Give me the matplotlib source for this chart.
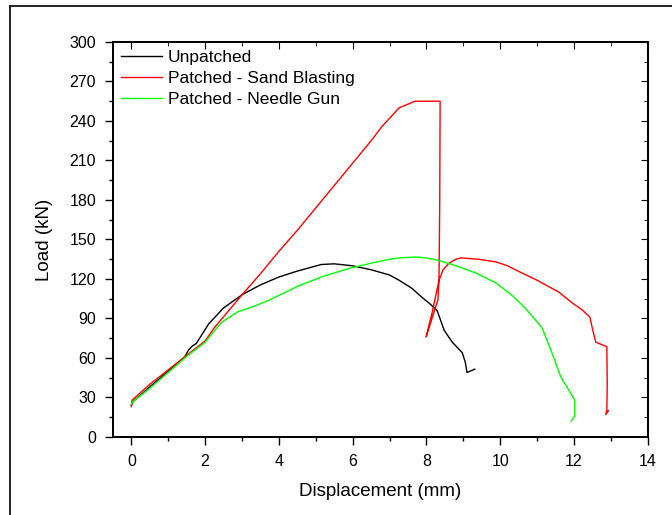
import matplotlib.pyplot as plt
from matplotlib.lines import Line2D

plt.rcParams['font.family'] = ['Liberation Sans', 'DejaVu Sans']

# Unpatched
x_un = [0.0, 0.05, 0.5, 1.0, 1.45, 1.55, 1.65, 1.76, 2.1, 2.5, 3.0, 3.5, 4.0, 4.5,
        5.15, 5.5, 6.0, 6.5, 7.0, 7.26, 7.6, 7.88, 8.1, 8.29, 8.48, 8.7, 8.97, 9.05, 9.1, 9.31]
y_un = [24, 27, 38, 50, 61, 66, 69, 71, 86, 98, 108, 115.5, 121.5, 126,
        131, 131.5, 130, 127, 123, 119, 113, 106, 101, 96, 81, 72, 64, 57, 49, 51.5]

# Patched - Sand Blasting
x_sb = [0.0, 0.02, 0.1, 0.5, 1.0, 1.5, 2.0, 2.25, 3.0, 3.5, 4.0, 4.5, 5.0, 5.5, 6.0,
        6.5, 6.8, 7.26, 7.69, 8.37, 8.36, 8.34, 8.31, 8.15, 7.99, 8.15, 8.34, 8.45,
        8.61, 8.8, 8.93, 9.4, 9.88, 10.2, 10.51, 11.0, 11.59, 11.94, 12.2, 12.43,
        12.5, 12.59, 12.89, 12.9, 12.89, 12.86, 12.93]
y_sb = [23, 28, 30, 40, 51, 62, 73, 83, 108, 124, 141, 157, 174, 191, 208,
        225, 236, 250, 255, 255, 180, 119, 104, 90, 76, 94, 119, 127,
        132, 135, 136, 135, 133, 130, 125.6, 119, 110, 102, 97, 91,
        82, 72, 68.5, 40, 20.5, 17, 20]

# Patched - Needle Gun
x_ng = [0.0, 0.05, 0.5, 1.0, 1.49, 2.0, 2.44, 2.88, 3.3, 3.74, 4.55, 5.2, 5.9,
        6.5, 7.0, 7.26, 7.71, 8.0, 8.34, 8.8, 9.34, 9.88, 10.3, 10.64, 11.13,
        11.4, 11.64, 12.02, 12.02, 11.92]
y_ng = [25, 27, 37, 49, 61, 72, 87, 95, 99, 104, 115, 122, 128,
        132, 135, 136, 136.7, 136, 134, 130, 124.5, 117, 108, 99, 83,
        64, 45.6, 28, 16, 12]

xmajor = list(range(0, 15, 2))
xminor = list(range(1, 15, 2))
ymajor = list(range(0, 301, 30))
yminor = list(range(15, 300, 30))

fig = plt.figure(figsize=(6.72, 5.15), dpi=100)
ax = fig.add_axes([0.168, 0.1515, 0.796, 0.767])

ax.plot(x_un, y_un, color='black', lw=1.0, label='Unpatched')
ax.plot(x_sb, y_sb, color='#ff0000', lw=1.0, label='Patched - Sand Blasting')
ax.plot(x_ng, y_ng, color='#00ff00', lw=1.0, label='Patched - Needle Gun')

ax.set_xlim(-0.5, 14)
ax.set_ylim(0, 300)
ax.set_xticks(xmajor)
ax.set_xticks(xminor, minor=True)
ax.set_yticks(ymajor)
ax.set_yticks(yminor, minor=True)
ax.tick_params(which='both', direction='out', labelsize=11.5, width=1)
ax.tick_params(which='major', length=6, pad=6)
ax.tick_params(which='minor', length=3)

# mirrored inward ticks on top and right, no labels
top = ax.twiny()
top.set_xlim(ax.get_xlim())
top.set_xticks(xmajor)
top.set_xticks(xminor, minor=True)
top.set_xticklabels([])
top.tick_params(which='both', direction='in')
top.tick_params(which='major', length=5)
top.tick_params(which='minor', length=3)
right = ax.twinx()
right.set_ylim(ax.get_ylim())
right.set_yticks(ymajor)
right.set_yticks(yminor, minor=True)
right.set_yticklabels([])
right.tick_params(which='both', direction='in')
right.tick_params(which='major', length=5)
right.tick_params(which='minor', length=3)

for a in (ax, top, right):
    for s in a.spines.values():
        s.set_linewidth(1.2)

ax.set_xlabel('Displacement (mm)', fontsize=13.5, labelpad=10)
ax.set_ylabel('Load (kN)', fontsize=13.5, labelpad=12)

ax.legend(loc='upper left', frameon=False, fontsize=12.5, handlelength=2.4,
          handletextpad=0.3, labelspacing=0.35, borderaxespad=0.15,
          borderpad=0.3)

# partial outer frame (top and left)
fig.add_artist(Line2D([10 / 672, 1.0], [1 - 6 / 515, 1 - 6 / 515], color='black', lw=1.2))
fig.add_artist(Line2D([10 / 672, 10 / 672], [0.0, 1 - 6 / 515], color='black', lw=1.2))

fig.savefig('out.png', dpi=100)
